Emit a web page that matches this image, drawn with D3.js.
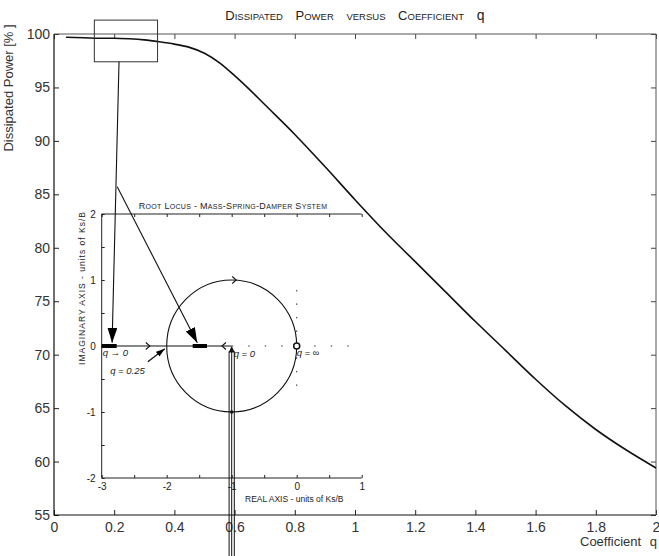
<!DOCTYPE html>
<html>
<head>
<meta charset="utf-8">
<script src="https://cdn.jsdelivr.net/npm/d3@7"></script>
<style>
  body { margin: 0; background: #fff; }
  svg { display: block; }
  text { font-family: "Liberation Sans", Arial, sans-serif; }
</style>
</head>
<body>
<div id="chart"></div>
<script>
// dissipated power curve
const coefficientQ = [0.04, 0.1, 0.15, 0.2, 0.25, 0.3, 0.35, 0.4, 0.45, 0.5, 0.55, 0.6, 0.65, 0.7,
  0.8, 0.9, 1.0, 1.1, 1.2, 1.3, 1.4, 1.5, 1.6, 1.7, 1.8, 1.9, 2.0];
const dissipatedPower = [99.7, 99.65, 99.6, 99.6, 99.55, 99.45, 99.27, 99.05, 98.75, 98.2, 97.3, 96.1, 94.8, 93.4,
  90.6, 87.6, 84.5, 81.5, 78.7, 75.9, 73.1, 70.4, 67.7, 65.2, 63.0, 61.1, 59.4];

const xTicks = [0, 0.2, 0.4, 0.6, 0.8, 1, 1.2, 1.4, 1.6, 1.8, 2];
const yTicks = [55, 60, 65, 70, 75, 80, 85, 90, 95, 100];

// root locus inset
const locusXTicks = [-3, -2.5, -2, -1.5, -1, -0.5, 0, 0.5, 1];
const locusYTicks = [-2, -1.5, -1, -0.5, 0, 0.5, 1, 1.5, 2];
const locusCircle = {re: -1, im: 0, r: 1};
const thickSegments = [[-3, -2.77], [-1.6, -1.38]];
const locusLabels = [
  {re: -3, im: 0, text: 'q → 0', dx: 1, dy: 10},
  {re: -1, im: 0, text: 'q = 0', dx: 2, dy: 11},
  {re: 0, im: 0, text: 'q = ∞', dx: 0, dy: 10},
  {re: -2.87, im: -0.42, text: 'q = 0.25', dx: 0, dy: 0}
];

const width = 659, height = 556;
const main = {left: 54, right: 656, top: 34, bottom: 515};
const inset = {left: 101.7, right: 361.7, top: 214, bottom: 478};

const svg = d3.select('#chart').append('svg')
    .attr('width', width)
    .attr('height', height);

const defs = svg.append('defs');
function addMarker(id, w, h) {
  defs.append('marker')
      .attr('id', id)
      .attr('markerUnits', 'userSpaceOnUse')
      .attr('viewBox', `0 0 ${w} ${h}`)
      .attr('refX', w).attr('refY', h / 2)
      .attr('markerWidth', w).attr('markerHeight', h)
      .attr('orient', 'auto')
    .append('path')
      .attr('d', `M0,0L${w},${h / 2}L0,${h}Z`)
      .attr('fill', '#000');
}
addMarker('bigHead', 15, 10);
addMarker('smallHead', 9, 6);

// uppercase letters large, lowercase letters as small capitals
function smallCaps(sel, str, big, small) {
  const parts = [];
  for (const ch of str) {
    const lower = ch !== ch.toUpperCase();
    const size = lower ? small : big;
    const last = parts[parts.length - 1];
    if (last && last.size === size) last.t += ch.toUpperCase();
    else parts.push({t: ch.toUpperCase(), size: size});
  }
  parts.forEach(p => sel.append('tspan').attr('font-size', p.size).text(p.t));
}

// ---------- main chart ----------
const x = d3.scaleLinear().domain([0, 2]).range([main.left, main.right]);
const y = d3.scaleLinear().domain([55, 100]).range([main.bottom, main.top]);

const gMain = svg.append('g');

function styleAxis(g, color) {
  g.select('.domain').remove();
  g.selectAll('line').attr('stroke', color);
  g.selectAll('text').attr('fill', '#333').attr('font-size', 14);
}

gMain.append('g')
    .attr('transform', `translate(0,${main.bottom})`)
    .call(d3.axisBottom(x).tickValues(xTicks).tickSizeInner(-5).tickSizeOuter(0)
      .tickPadding(7).tickFormat(d => String(d)))
    .call(g => styleAxis(g, '#222'));

gMain.append('g')
    .attr('transform', `translate(${main.left},0)`)
    .call(d3.axisLeft(y).tickValues(yTicks).tickSizeInner(-5).tickSizeOuter(0)
      .tickPadding(4).tickFormat(d => String(d)))
    .call(g => styleAxis(g, '#222'));

gMain.append('g')
    .attr('transform', `translate(0,${main.top})`)
    .call(d3.axisTop(x).tickValues(xTicks).tickSizeInner(-5).tickSizeOuter(0).tickFormat(''))
    .call(g => styleAxis(g, '#444'));

gMain.append('g')
    .attr('transform', `translate(${main.right},0)`)
    .call(d3.axisRight(y).tickValues(yTicks).tickSizeInner(-5).tickSizeOuter(0).tickFormat(''))
    .call(g => styleAxis(g, '#444'));

// frame
gMain.append('path')
    .attr('d', `M${main.left},${main.top}V${main.bottom}H${main.right}`)
    .attr('fill', 'none').attr('stroke', '#111').attr('stroke-width', 1.2);
gMain.append('path')
    .attr('d', `M${main.left},${main.top}H${main.right}V${main.bottom}`)
    .attr('fill', 'none').attr('stroke', '#555').attr('stroke-width', 1);

const powerLine = d3.line()
    .x((d, i) => x(coefficientQ[i]))
    .y(d => y(d))
    .curve(d3.curveMonotoneX);

gMain.append('path')
    .datum(dissipatedPower)
    .attr('d', powerLine)
    .attr('fill', 'none')
    .attr('stroke', '#111')
    .attr('stroke-width', 1.6);

// zoom box
gMain.append('rect')
    .attr('x', x(0.134)).attr('y', y(101.3))
    .attr('width', x(0.344) - x(0.134))
    .attr('height', y(97.4) - y(101.3))
    .attr('fill', 'none').attr('stroke', '#333');

// titles
const title = svg.append('text')
    .attr('x', 355).attr('y', 20)
    .attr('text-anchor', 'middle')
    .attr('fill', '#222')
    .style('word-spacing', '9px');
smallCaps(title, 'Dissipated Power versus Coefficient', 13, 9.5);
title.append('tspan').attr('font-size', 14).text(' q');

svg.append('text')
    .attr('transform', 'translate(13,88) rotate(-90)')
    .attr('text-anchor', 'middle')
    .attr('font-size', 13)
    .attr('fill', '#333')
    .text('Dissipated Power [% ]');

svg.append('text')
    .attr('x', 580).attr('y', 546)
    .attr('font-size', 13)
    .attr('fill', '#333')
    .style('word-spacing', '5px')
    .text('Coefficient q');

// ---------- root locus inset ----------
const xl = d3.scaleLinear().domain([-3, 1]).range([inset.left, inset.right]);
const yl = d3.scaleLinear().domain([-2, 2]).range([inset.bottom, inset.top]);

const gIn = svg.append('g');

function styleInset(g) {
  g.select('.domain').remove();
  g.selectAll('line').attr('stroke', '#222');
  g.selectAll('text').attr('fill', '#222').attr('font-size', 10);
}
const intLabel = d => Number.isInteger(d) ? String(d) : '';

gIn.append('g')
    .attr('transform', `translate(0,${inset.bottom})`)
    .call(d3.axisBottom(xl).tickValues(locusXTicks).tickSizeInner(-3).tickSizeOuter(0)
      .tickPadding(5).tickFormat(intLabel))
    .call(styleInset);

gIn.append('g')
    .attr('transform', `translate(${inset.left},0)`)
    .call(d3.axisLeft(yl).tickValues(locusYTicks).tickSizeInner(-3).tickSizeOuter(0)
      .tickPadding(6).tickFormat(intLabel))
    .call(styleInset);

gIn.append('g')
    .attr('transform', `translate(0,${inset.top})`)
    .call(d3.axisTop(xl).tickValues(locusXTicks).tickSizeInner(-3).tickSizeOuter(0).tickFormat(''))
    .call(styleInset);

gIn.append('path')
    .attr('d', `M${inset.right},${inset.top}H${inset.left}V${inset.bottom}H${inset.right}`)
    .attr('fill', 'none').attr('stroke', '#222');

const insetTitle = gIn.append('text')
    .attr('x', 233).attr('y', 209)
    .attr('text-anchor', 'middle')
    .attr('fill', '#222')
    .attr('letter-spacing', 0.3);
smallCaps(insetTitle, 'Root Locus - Mass-Spring-Damper System', 9, 7);

gIn.append('text')
    .attr('x', 245).attr('y', 502)
    .attr('font-size', 8.5)
    .attr('fill', '#222')
    .text('REAL AXIS - units of Ks/B');

gIn.append('text')
    .attr('transform', 'translate(85,288) rotate(-90)')
    .attr('text-anchor', 'middle')
    .attr('font-size', 8.5)
    .attr('letter-spacing', 1)
    .attr('fill', '#222')
    .text('IMAGINARY AXIS - units of Ks/B');

// real axis: solid part then dotted
gIn.append('line')
    .attr('x1', xl(-3)).attr('x2', xl(-1))
    .attr('y1', yl(0)).attr('y2', yl(0))
    .attr('stroke', '#111').attr('stroke-width', 1.2);
gIn.append('line')
    .attr('x1', xl(-1)).attr('x2', xl(1))
    .attr('y1', yl(0)).attr('y2', yl(0))
    .attr('stroke', '#333').attr('stroke-dasharray', '1.5,15');
gIn.append('line')
    .attr('x1', xl(0)).attr('x2', xl(0))
    .attr('y1', yl(0.85)).attr('y2', yl(-0.65))
    .attr('stroke', '#333').attr('stroke-dasharray', '1.5,12');

gIn.append('ellipse')
    .attr('cx', xl(locusCircle.re)).attr('cy', yl(locusCircle.im))
    .attr('rx', xl(locusCircle.re + locusCircle.r) - xl(locusCircle.re))
    .attr('ry', yl(locusCircle.im) - yl(locusCircle.im + locusCircle.r))
    .attr('fill', 'none').attr('stroke', '#111').attr('stroke-width', 1.1);

gIn.selectAll('.thick')
    .data(thickSegments)
  .join('line')
    .attr('class', 'thick')
    .attr('x1', d => xl(d[0])).attr('x2', d => xl(d[1]))
    .attr('y1', yl(0)).attr('y2', yl(0))
    .attr('stroke', '#000').attr('stroke-width', 4);

// direction chevrons on the locus
function chevron(re, im, dir) {
  const cx = xl(re), cy = yl(im), s = 4 * dir;
  gIn.append('path')
      .attr('d', `M${cx - s},${cy - 3.5}L${cx},${cy}L${cx - s},${cy + 3.5}`)
      .attr('fill', 'none').attr('stroke', '#111').attr('stroke-width', 1.1);
}
chevron(-2.26, 0, 1);
chevron(-1.15, 0, -1);
chevron(-0.93, 1, 1);
gIn.append('circle')
    .attr('cx', xl(-1)).attr('cy', yl(-1)).attr('r', 1.8).attr('fill', '#111');

// zero at origin
gIn.append('circle')
    .attr('cx', xl(0)).attr('cy', yl(0)).attr('r', 3)
    .attr('fill', '#fff').attr('stroke', '#111').attr('stroke-width', 1.5);

gIn.selectAll('.qlabel')
    .data(locusLabels)
  .join('text')
    .attr('class', 'qlabel')
    .attr('x', d => xl(d.re) + d.dx)
    .attr('y', d => yl(d.im) + d.dy)
    .attr('font-size', 9.5)
    .attr('font-style', 'italic')
    .attr('fill', '#222')
    .text(d => d.text);

// q = 0.25 pointer
gIn.append('line')
    .attr('x1', xl(-2.29)).attr('y1', yl(-0.24))
    .attr('x2', xl(-2.03)).attr('y2', yl(-0.04))
    .attr('stroke', '#111').attr('stroke-width', 1.3)
    .attr('marker-end', 'url(#smallHead)');

// triple line from q = 0 down out of the picture
[-0.04, 0, 0.04].forEach(o => {
  gIn.append('line')
      .attr('x1', xl(-1 + o)).attr('x2', xl(-1 + o))
      .attr('y1', yl(-0.08)).attr('y2', height)
      .attr('stroke', '#111').attr('stroke-width', 1);
});
gIn.append('path')
    .attr('d', `M${xl(-1) - 3},${yl(-0.1)}L${xl(-1)},${yl(0)}L${xl(-1) + 3},${yl(-0.1)}Z`)
    .attr('fill', '#111');

// pointers from the zoom box to the inset
svg.append('line')
    .attr('x1', x(0.216)).attr('y1', y(97.4))
    .attr('x2', xl(-2.84)).attr('y2', yl(0.05))
    .attr('stroke', '#111').attr('stroke-width', 1.1)
    .attr('marker-end', 'url(#bigHead)');
svg.append('line')
    .attr('x1', x(0.21)).attr('y1', y(85.7))
    .attr('x2', xl(-1.53)).attr('y2', yl(0.05))
    .attr('stroke', '#111').attr('stroke-width', 1.1)
    .attr('marker-end', 'url(#bigHead)');
</script>
</body>
</html>
